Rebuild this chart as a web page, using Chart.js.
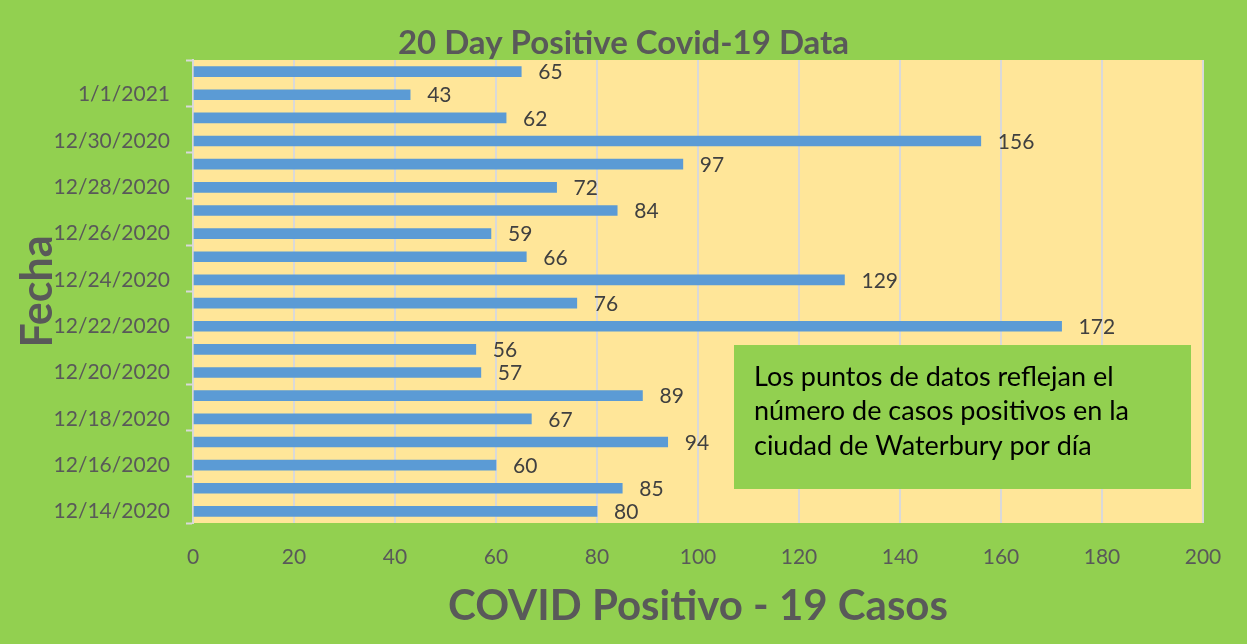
<!DOCTYPE html>
<html>
<head>
<meta charset="utf-8">
<script src="https://cdn.jsdelivr.net/npm/chart.js@4/dist/chart.umd.min.js"></script>
<style>
  html, body { margin: 0; padding: 0; background: #92D050; }
  #wrap { width: 1247px; height: 644px; position: relative; }
</style>
</head>
<body>
<div id="wrap"><canvas id="myChart"></canvas></div>
<script>
// data, oldest day first (drawn bottom to top)
const fechas = [
  '12/14/2020','12/15/2020','12/16/2020','12/17/2020','12/18/2020',
  '12/19/2020','12/20/2020','12/21/2020','12/22/2020','12/23/2020',
  '12/24/2020','12/25/2020','12/26/2020','12/27/2020','12/28/2020',
  '12/29/2020','12/30/2020','12/31/2020','1/1/2021','1/2/2021'
];
const casos = [80, 85, 60, 94, 67, 89, 57, 56, 172, 76, 129, 66, 59, 84, 72, 97, 156, 62, 43, 65];
const xTicks = [0, 20, 40, 60, 80, 100, 120, 140, 160, 180, 200];
const nota = ['Los puntos de datos reflejan el', 'número de casos positivos en la', 'ciudad de Waterbury por día'];

const gris = '#595959';
const lineaGris = '#D9D9D9';

//yellow plot area
const plotBg = {
    id: 'plotBg',
    beforeDraw(chart) {
        const {ctx, chartArea: a} = chart;
        ctx.save();
        ctx.fillStyle = '#FFE699';
        ctx.fillRect(a.left, a.top, a.right - a.left, a.bottom - a.top);
        ctx.restore();
    }
};

//numbers at the end of each bar
const valueLabels = {
    id: 'valueLabels',
    afterDatasetsDraw(chart) {
        const ctx = chart.ctx;
        ctx.save();
        ctx.font = '21px Lato';
        ctx.fillStyle = '#404040';
        ctx.textBaseline = 'middle';
        chart.getDatasetMeta(0).data.forEach((bar, i) => {
            ctx.fillText(casos[i], bar.x + 17, bar.y + 1);
        });
        ctx.restore();
    }
};

//green note box
const noteBox = {
    id: 'noteBox',
    afterDraw(chart) {
        const ctx = chart.ctx;
        ctx.save();
        ctx.fillStyle = '#92D050';
        ctx.fillRect(734, 345, 457, 144);
        ctx.fillStyle = '#000000';
        ctx.font = '27px Lato';
        ctx.textBaseline = 'middle';
        nota.forEach((t, i) => ctx.fillText(t, 754, 377 + i * 34.5));
        ctx.restore();
    }
};

Chart.defaults.font.family = 'Lato';
Chart.defaults.color = gris;

const ctx = document.getElementById('myChart').getContext('2d');
const myChart = new Chart(ctx, {
    type: 'bar',
    data: {
        labels: fechas,
        datasets: [{
            label: 'Casos',
            data: casos,
            backgroundColor: '#5B9BD5',
            barThickness: 10
        }]
    },
    options: {
        indexAxis: 'y',
        responsive: true,
        maintainAspectRatio: false,
        animation: false,
        layout: { padding: 0 },
        plugins: {
            legend: { display: false },
            tooltip: { enabled: false },
            title: {
                display: true,
                text: '20 Day Positive Covid-19 Data',
                color: gris,
                font: { size: 33, weight: 'bold', lineHeight: 1 },
                padding: { top: 27, bottom: 0 }
            }
        },
        scales: {
            x: {
                min: 0,
                max: 200,
                afterBuildTicks: (scale) => { scale.ticks = xTicks.map(v => ({ value: v })); },
                afterFit: (scale) => { scale.height = 121; },
                grid: { color: lineaGris, lineWidth: 2, drawTicks: false },
                border: { display: false },
                ticks: { color: gris, font: { size: 21 }, padding: 22 },
                title: {
                    display: true,
                    text: 'COVID Positivo - 19 Casos',
                    color: gris,
                    font: { size: 42, weight: 'bold', lineHeight: 1.2 },
                    padding: { top: 0, bottom: 12 }
                }
            },
            y: {
                reverse: true,
                afterFit: (scale) => { scale.width = 193; },
                grid: {
                    drawOnChartArea: false,
                    tickLength: 7,
                    tickWidth: 2,
                    tickColor: (c) => ((c.index ?? 0) % 2 === 0 ? lineaGris : 'transparent')
                },
                border: { display: true, color: lineaGris, width: 2 },
                ticks: {
                    autoSkip: false,
                    color: gris,
                    font: { size: 21 },
                    padding: 16,
                    callback: function (v, i) { return i % 2 === 0 ? this.getLabelForValue(v) : ''; }
                },
                title: {
                    display: true,
                    text: 'Fecha',
                    color: gris,
                    font: { size: 43, weight: 'bold', lineHeight: 1.2 },
                    padding: { top: 12, bottom: 0 }
                }
            },
            // empty right margin so the title centres on the whole picture
            margen: {
                type: 'linear',
                position: 'right',
                afterFit: (scale) => { scale.width = 44; },
                grid: { display: false },
                border: { display: false },
                ticks: { display: false }
            }
        }
    },
    plugins: [plotBg, valueLabels, noteBox]
});
</script>
</body>
</html>
